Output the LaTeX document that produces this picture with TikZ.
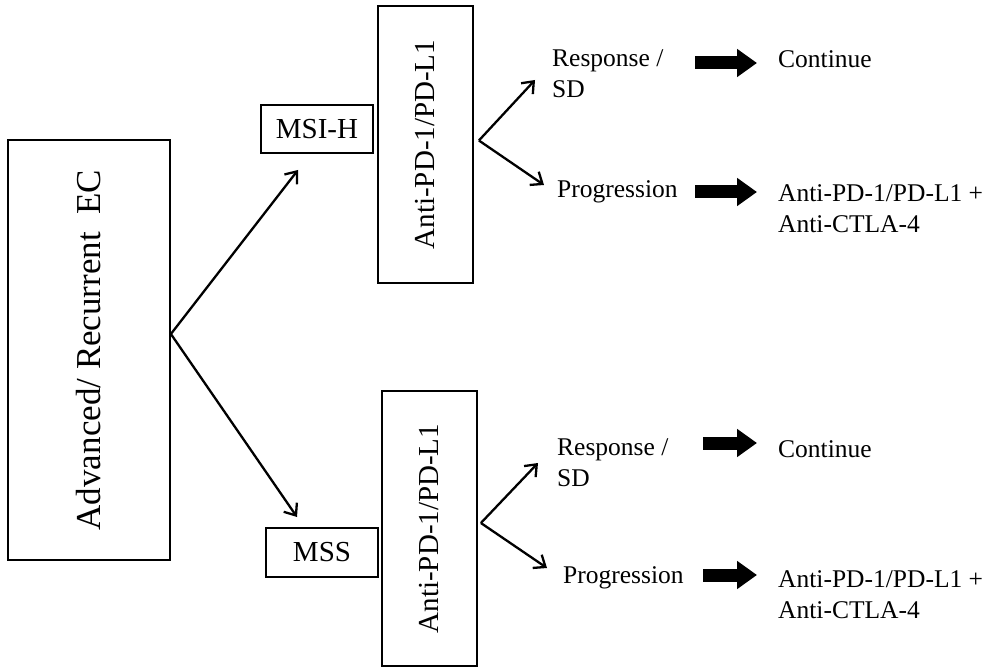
\documentclass[tikz,border=0pt]{standalone}
\usepackage{fontspec}
\setmainfont{Liberation Serif}
\usetikzlibrary{arrows.meta}
\newcommand\dgbig{\fontsize{35}{42}\selectfont}
\newcommand\dgbox{\fontsize{29}{35}\selectfont}
\newcommand\dgtxt{\fontsize{25.5}{31}\selectfont}
\begin{document}
\begin{tikzpicture}[x=1pt,y=-1pt,
  boxnode/.style={draw,line width=1.8pt,inner sep=0pt,font=\dgbox},
  txt/.style={inner sep=0pt,anchor=base west,font=\dgtxt},
  thin arrow/.style={line width=2.3pt,-{Straight Barb[length=10pt,width=16pt]}},
  block arrow/.style={line width=13pt,-{Triangle[length=20pt,width=27pt]}}]
\useasboundingbox[fill=white] (0,0) rectangle (1006,668);
% boxes
\node[boxnode,minimum width=162pt,minimum height=420pt,font=\dgbig] (ec) at (89,350) {\rotatebox{90}{Advanced/ Recurrent\ \ EC}};
\node[boxnode,minimum width=112pt,minimum height=48pt] (msih) at (317,129) {MSI-H};
\node[boxnode,minimum width=95pt,minimum height=277pt] (anti1) at (425.5,144.5) {\rotatebox{90}{Anti-PD-1/PD-L1}};
\node[boxnode,minimum width=112pt,minimum height=49pt] (mss) at (322,552.5) {MSS};
\node[boxnode,minimum width=95pt,minimum height=275pt] (anti2) at (429.5,528.5) {\rotatebox{90}{Anti-PD-1/PD-L1}};
% texts
\node[txt] (resp1) at (552,67) {\begin{tabular}[t]{@{}l@{}}Response /\\SD\end{tabular}};
\node[txt] (prog1) at (557,198) {Progression};
\node[txt] (cont1) at (778,68) {Continue};
\node[txt] (comb1) at (778,202) {\begin{tabular}[t]{@{}l@{}}Anti-PD-1/PD-L1 +\\Anti-CTLA-4\end{tabular}};
\node[txt] (resp2) at (557,455) {\begin{tabular}[t]{@{}l@{}}Response /\\SD\end{tabular}};
\node[txt] (prog2) at (563,583) {Progression};
\node[txt] (cont2) at (778,457) {Continue};
\node[txt] (comb2) at (778,587) {\begin{tabular}[t]{@{}l@{}}Anti-PD-1/PD-L1 +\\Anti-CTLA-4\end{tabular}};
% arrow end points
\coordinate (t1) at (298,170);
\coordinate (t2) at (297,517);
\coordinate (t3) at (535,80);
\coordinate (t4) at (544,185);
\coordinate (t5) at (538,463);
\coordinate (t6) at (547,568);
\coordinate (a1s) at (695,63);  \coordinate (a1e) at (757,63);
\coordinate (a2s) at (695,192); \coordinate (a2e) at (757,192);
\coordinate (a3s) at (703,443); \coordinate (a3e) at (757,443);
\coordinate (a4s) at (703,575); \coordinate (a4e) at (757,575);
% connectors
\draw[thin arrow] ([yshift=16pt]ec.east) -- (t1);
\draw[thin arrow] ([yshift=16pt]ec.east) -- (t2);
\draw[thin arrow] ([xshift=5pt,yshift=4pt]anti1.east) -- (t3);
\draw[thin arrow] ([xshift=5pt,yshift=4pt]anti1.east) -- (t4);
\draw[thin arrow] ([xshift=3pt,yshift=5.5pt]anti2.east) -- (t5);
\draw[thin arrow] ([xshift=3pt,yshift=5.5pt]anti2.east) -- (t6);
\draw[block arrow] (a1s) -- (a1e);
\draw[block arrow] (a2s) -- (a2e);
\draw[block arrow] (a3s) -- (a3e);
\draw[block arrow] (a4s) -- (a4e);
\end{tikzpicture}
\end{document}
